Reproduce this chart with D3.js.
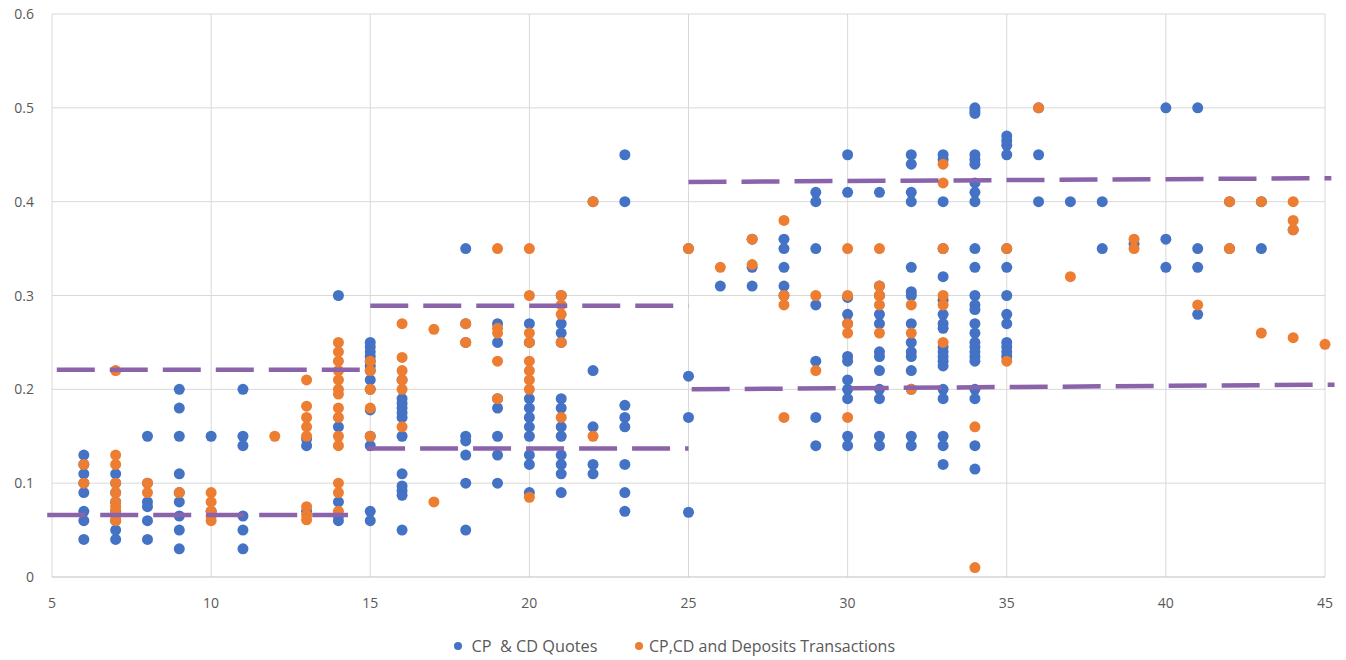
<!DOCTYPE html>
<html>
<head>
<meta charset="utf-8">
<script src="https://cdn.jsdelivr.net/npm/d3@7"></script>
<style>
  body { margin: 0; background: #fff; }
  text { font-family: "Open Sans", "Liberation Sans", Arial, sans-serif; fill: #595959; }
</style>
</head>
<body>
<div id="chart"></div>
<script>
// tenor (x) columns and the values seen in each column
const quoteTenors = [6, 7, 8, 9, 10, 11, 13, 14, 15, 16, 18, 19, 20, 21, 22, 23, 25, 26, 27, 28, 29, 30, 31, 32, 33, 34, 35, 36, 37, 38, 39, 40, 41, 42, 43, 44];
const quoteValues = [
  [0.13, 0.12, 0.11, 0.1, 0.09, 0.07, 0.06, 0.04],
  [0.11, 0.1, 0.09, 0.08, 0.07, 0.06, 0.05, 0.04],
  [0.15, 0.1, 0.08, 0.075, 0.06, 0.04],
  [0.2, 0.18, 0.15, 0.11, 0.09, 0.08, 0.065, 0.05, 0.03],
  [0.15, 0.07],
  [0.2, 0.15, 0.14, 0.065, 0.05, 0.03],
  [0.147, 0.14, 0.07],
  [0.3, 0.16, 0.08, 0.065, 0.06],
  [0.25, 0.245, 0.24, 0.235, 0.23, 0.225, 0.22, 0.21, 0.2, 0.178, 0.15, 0.14, 0.07, 0.06],
  [0.21, 0.19, 0.185, 0.18, 0.175, 0.17, 0.15, 0.11, 0.097, 0.092, 0.087, 0.05],
  [0.35, 0.27, 0.25, 0.15, 0.145, 0.13, 0.1, 0.05],
  [0.27, 0.25, 0.19, 0.18, 0.15, 0.13, 0.1],
  [0.27, 0.25, 0.19, 0.18, 0.17, 0.16, 0.15, 0.13, 0.12, 0.09],
  [0.3, 0.27, 0.26, 0.25, 0.19, 0.18, 0.16, 0.15, 0.13, 0.12, 0.11, 0.09],
  [0.4, 0.22, 0.16, 0.12, 0.11],
  [0.45, 0.4, 0.183, 0.17, 0.16, 0.12, 0.09, 0.07],
  [0.35, 0.214, 0.17, 0.069],
  [0.31],
  [0.36, 0.33, 0.31],
  [0.36, 0.35, 0.33, 0.31, 0.3],
  [0.41, 0.4, 0.35, 0.29, 0.23, 0.17, 0.14],
  [0.45, 0.41, 0.298, 0.28, 0.27, 0.235, 0.23, 0.21, 0.2, 0.19, 0.15, 0.14],
  [0.41, 0.31, 0.3, 0.28, 0.27, 0.24, 0.235, 0.22, 0.2, 0.19, 0.15, 0.14],
  [0.45, 0.44, 0.41, 0.4, 0.33, 0.304, 0.3, 0.27, 0.25, 0.24, 0.235, 0.22, 0.2, 0.15, 0.14],
  [0.45, 0.445, 0.4, 0.35, 0.32, 0.295, 0.28, 0.27, 0.265, 0.245, 0.24, 0.235, 0.23, 0.225, 0.2, 0.19, 0.15, 0.14, 0.12],
  [0.5, 0.497, 0.494, 0.45, 0.445, 0.44, 0.42, 0.41, 0.4, 0.35, 0.33, 0.3, 0.29, 0.285, 0.27, 0.26, 0.25, 0.245, 0.24, 0.235, 0.23, 0.2, 0.19, 0.14, 0.115],
  [0.47, 0.465, 0.46, 0.45, 0.35, 0.33, 0.3, 0.28, 0.27, 0.25, 0.245, 0.24, 0.235],
  [0.5, 0.45, 0.4],
  [0.4],
  [0.4, 0.35],
  [0.355],
  [0.5, 0.36, 0.33],
  [0.5, 0.35, 0.33, 0.28],
  [0.4, 0.35],
  [0.4, 0.35],
  [0.37]
];

const dealTenors = [6, 7, 8, 9, 10, 12, 13, 14, 15, 16, 17, 18, 19, 20, 21, 22, 25, 26, 27, 28, 29, 30, 31, 32, 33, 34, 35, 36, 37, 39, 41, 42, 43, 44, 45];
const dealValues = [
  [0.12, 0.1],
  [0.22, 0.13, 0.12, 0.1, 0.09, 0.08, 0.075, 0.07, 0.065, 0.06],
  [0.1, 0.09],
  [0.09],
  [0.09, 0.08, 0.07, 0.065, 0.06],
  [0.15],
  [0.21, 0.182, 0.17, 0.16, 0.15, 0.075, 0.066, 0.061],
  [0.25, 0.24, 0.23, 0.22, 0.21, 0.2, 0.195, 0.18, 0.17, 0.15, 0.14, 0.1, 0.09, 0.07],
  [0.23, 0.22, 0.2, 0.18, 0.15],
  [0.27, 0.234, 0.22, 0.21, 0.2, 0.16],
  [0.264, 0.08],
  [0.27, 0.25],
  [0.35, 0.265, 0.26, 0.23, 0.19],
  [0.35, 0.3, 0.26, 0.25, 0.23, 0.22, 0.21, 0.2, 0.085],
  [0.3, 0.29, 0.28, 0.25, 0.17],
  [0.4, 0.15],
  [0.35],
  [0.33],
  [0.36, 0.333],
  [0.38, 0.3, 0.29, 0.17],
  [0.3, 0.22],
  [0.35, 0.3, 0.27, 0.26, 0.17],
  [0.35, 0.31, 0.3, 0.29, 0.26],
  [0.29, 0.26, 0.2],
  [0.44, 0.42, 0.35, 0.3, 0.29, 0.25],
  [0.16, 0.01],
  [0.35, 0.23],
  [0.5],
  [0.32],
  [0.36, 0.35],
  [0.29],
  [0.4, 0.35],
  [0.4, 0.26],
  [0.4, 0.38, 0.37, 0.255],
  [0.248]
];

// dashed band lines: [x start, x end] and [y start, y end]
const bandX = [[5.15, 14.7], [4.85, 14.3], [15, 25], [14.9, 25], [25, 45.2], [25.1, 45.3]];
const bandY = [[0.221, 0.221], [0.066, 0.066], [0.289, 0.289], [0.137, 0.137], [0.421, 0.425], [0.2, 0.205]];

const xTicks = [5, 10, 15, 20, 25, 30, 35, 40, 45];
const yTicks = [0, 0.1, 0.2, 0.3, 0.4, 0.5, 0.6];
const seriesNames = ["CP  & CD Quotes", "CP,CD and Deposits Transactions"];
const seriesColors = ["#4472C4", "#ED7D31"];

const width = 1346, height = 660;
const margin = { left: 52, right: 21, top: 14, bottom: 83 };

const svg = d3.select("#chart").append("svg")
  .attr("width", width)
  .attr("height", height);

const x = d3.scaleLinear().domain([5, 45]).range([margin.left, width - margin.right]);
const y = d3.scaleLinear().domain([0, 0.6]).range([height - margin.bottom, margin.top]);

// gridlines
svg.append("g").selectAll("line")
  .data(yTicks.slice(1))
  .join("line")
  .attr("x1", x(5)).attr("x2", x(45))
  .attr("y1", d => y(d)).attr("y2", d => y(d))
  .attr("stroke", "#d9d9d9").attr("stroke-width", 1);

svg.append("g").selectAll("line")
  .data(xTicks)
  .join("line")
  .attr("x1", d => x(d)).attr("x2", d => x(d))
  .attr("y1", y(0)).attr("y2", y(0.6))
  .attr("stroke", "#d9d9d9").attr("stroke-width", 1);

// x axis line
svg.append("line")
  .attr("x1", x(5)).attr("x2", x(45))
  .attr("y1", y(0)).attr("y2", y(0))
  .attr("stroke", "#bfbfbf").attr("stroke-width", 1);

// tick labels
svg.append("g").selectAll("text")
  .data(yTicks)
  .join("text")
  .attr("x", 34)
  .attr("y", d => y(d) + 5)
  .attr("text-anchor", "end")
  .style("font-size", "14px")
  .text(d => d3.format("~g")(d));

svg.append("g").selectAll("text")
  .data(xTicks)
  .join("text")
  .attr("x", d => x(d))
  .attr("y", 608)
  .attr("text-anchor", "middle")
  .style("font-size", "14px")
  .text(d => d);

// points
function flatten(tenors, values) {
  let out = [];
  tenors.forEach((t, i) => values[i].forEach(v => out.push({ x: t, y: v })));
  return out;
}

const series = [flatten(quoteTenors, quoteValues), flatten(dealTenors, dealValues)];

series.forEach((pts, i) => {
  svg.append("g").selectAll("circle")
    .data(pts)
    .join("circle")
    .attr("cx", d => x(d.x))
    .attr("cy", d => y(d.y))
    .attr("r", 5.5)
    .attr("fill", seriesColors[i]);
});

// dashed bands
svg.append("g").selectAll("line")
  .data(bandX.map((bx, i) => ({ bx: bx, by: bandY[i] })))
  .join("line")
  .attr("x1", d => x(d.bx[0])).attr("x2", d => x(d.bx[1]))
  .attr("y1", d => y(d.by[0])).attr("y2", d => y(d.by[1]))
  .attr("stroke", "#8A63AB")
  .attr("stroke-width", 4.5)
  .attr("stroke-dasharray", "38,15");

// legend
const legendPos = [458, 639];
const legendWidths = [126, 246];
const legend = svg.append("g").selectAll("g")
  .data(seriesNames)
  .join("g")
  .attr("transform", (d, i) => `translate(${legendPos[i]},646)`);

legend.append("circle")
  .attr("r", 4)
  .attr("fill", (d, i) => seriesColors[i]);

legend.append("text")
  .attr("x", (d, i) => i === 0 ? 13.5 : 10)
  .attr("y", 5.5)
  .style("font-size", "15.5px")
  .style("white-space", "pre")
  .attr("textLength", (d, i) => legendWidths[i])
  .attr("lengthAdjust", "spacingAndGlyphs")
  .text(d => d);
</script>
</body>
</html>
